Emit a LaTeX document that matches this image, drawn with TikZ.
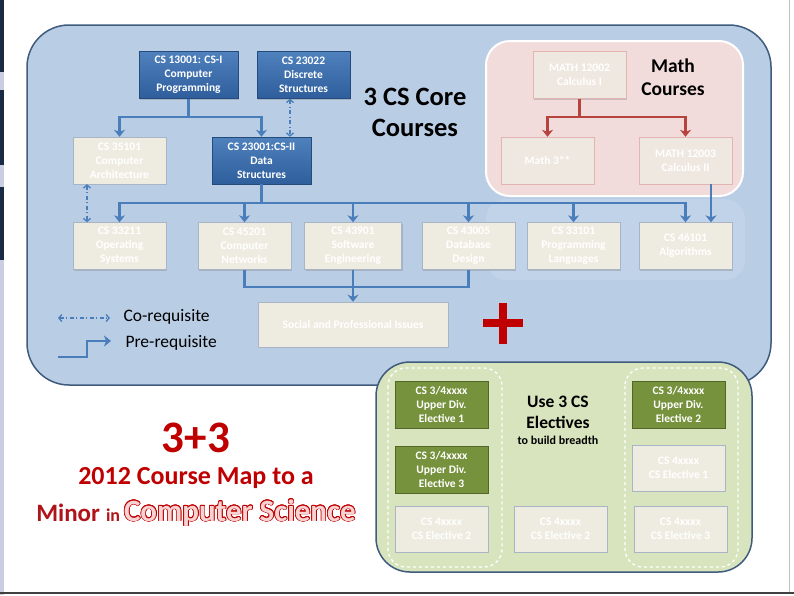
\documentclass[tikz,border=0pt]{standalone}
\usepackage{fontspec}
\setmainfont{Carlito}
\usepackage{contour}
\usetikzlibrary{arrows.meta,shadows,positioning,calc}

\definecolor{panelblue}{HTML}{B9CDE5}
\definecolor{paneledge}{HTML}{3F5B7D}
\definecolor{mathpink}{HTML}{F2DCDB}
\definecolor{mathbox}{HTML}{EFE8E0}
\definecolor{elecgreen}{HTML}{D7E4BD}
\definecolor{olive}{HTML}{76923C}
\definecolor{beige}{HTML}{EEECE1}
\definecolor{coreblue}{HTML}{4F81BD}
\definecolor{coredark}{HTML}{2E5E9C}
\definecolor{linkblue}{HTML}{4A7EBB}
\definecolor{linkred}{HTML}{B7433F}
\definecolor{titlered}{HTML}{C00000}
\definecolor{minorred}{HTML}{B0141B}
\definecolor{sciencepink}{HTML}{F6D2D2}
\definecolor{stripnavy}{HTML}{1B2A44}
\definecolor{stripgray}{HTML}{C9CEE0}

\contourlength{0.7pt}

\tikzset{
  course/.style={rectangle, minimum width=93pt, minimum height=47pt, align=center,
    text=white, font=\bfseries\fontsize{11.5}{14}\selectfont, inner sep=1pt,
    drop shadow={opacity=0.35, shadow xshift=1.2pt, shadow yshift=-1.2pt}},
  core/.style={course, top color=coreblue, bottom color=coredark, draw=coredark!80!black},
  other/.style={course, fill=beige, draw=paneledge!45},
  mathcourse/.style={course, fill=mathbox, draw=linkred!40},
  elective/.style={course, fill=olive, draw=olive!70!black},
  preline/.style={draw=linkblue, line width=2.5pt},
  pre/.style={preline, -{Stealth[length=7pt,width=11pt,inset=2pt]}},
  coreq/.style={draw=linkblue, line width=1.3pt, dash pattern=on 4pt off 2.5pt on 1pt off 2.5pt,
    {Straight Barb[length=3pt,width=7pt]}-{Straight Barb[length=3pt,width=7pt]}},
  mathline/.style={preline, draw=linkred},
  mathpre/.style={pre, draw=linkred},
  heading/.style={align=center, font=\bfseries\fontsize{26.5}{31}\selectfont},
  legendtext/.style={anchor=west, font=\fontsize{17.5}{19}\selectfont},
}

\begin{document}
\begin{tikzpicture}[x=1pt, y=-1pt]
\useasboundingbox (0,0) rectangle (794,595);

% frame of the slide
\fill[stripgray] (0,0) rectangle (4,595);
\fill[stripnavy] (0,0) rectangle (4,72);
\fill[stripnavy] (0,90) rectangle (4,165);
\fill[stripnavy] (0,187) rectangle (4,260);
\draw[gray!50, line width=1pt] (789,0) -- (789,593);
\draw[black!75, line width=2pt] (0,593) -- (794,593);

% Panels
\draw[fill=panelblue, draw=paneledge, line width=1.5pt, rounded corners=42pt] (27,25) rectangle (771,385);
\draw[fill=mathpink, draw=white, line width=2pt, rounded corners=24pt] (486,41) rectangle (743,196);
\fill[white, opacity=0.12, rounded corners=20pt] (486,199) rectangle (745,280);
\draw[fill=elecgreen, draw=paneledge, line width=1.5pt, rounded corners=34pt] (376,362) rectangle (752,572);
\draw[white, line width=1.3pt, dashed, rounded corners=18pt] (388,368) rectangle (502,567);
\draw[white, line width=1.3pt, dashed, rounded corners=18pt] (625,368) rectangle (738,567);

% Core courses
\node[core, minimum width=99pt] (cs13001) at (188.5,75) {CS 13001: CS-I\\Computer\\Programming};
\node[core] (cs23022) at (303.5,75) {CS 23022\\Discrete\\Structures};
\node[other] (cs35101) at (119.5,160.5) {CS 35101\\Computer\\Architecture};
\node[core, minimum width=99pt] (cs23001) at (261.5,160.5) {CS 23001:CS-II\\Data\\Structures};

% Upper courses
\node[other] (cs33211) at (119.5,246) {CS 33211\\Operating\\Systems};
\node[other] (cs45201) at (244.5,246) {CS 45201\\Computer\\Networks};
\node[other, minimum width=97pt] (cs43901) at (353,246) {CS 43901\\Software\\Engineering};
\node[other] (cs43005) at (468.5,246) {CS 43005\\Database\\Design};
\node[other] (cs33101) at (573.5,246) {CS 33101\\Programming\\Languages};
\node[other] (cs46101) at (685.5,246) {CS 46101\\Algorithms};
\node[other, minimum width=190pt, minimum height=45pt] (social) at (353,324.5) {Social and Professional Issues};

% Math courses
\node[mathcourse] (math12002) at (579.5,75) {MATH 12002\\Calculus I};
\node[mathcourse] (math3) at (547.5,160.5) {Math 3**};
\node[mathcourse] (math12003) at (685.5,160.5) {MATH 12003\\Calculus II};

% Electives
\node[elective] (elec1) at (441.5,404.5) {CS 3/4xxxx\\Upper Div.\\Elective 1};
\node[elective] (elec3) at (441.5,469.5) {CS 3/4xxxx\\Upper Div.\\Elective 3};
\node[elective] (elec2) at (678.5,404.5) {CS 3/4xxxx\\Upper Div.\\Elective 2};
\node[other, minimum height=46pt] (cselec1) at (678.5,468) {CS 4xxxx\\CS Elective 1};
\node[other, minimum height=46pt] (cselec2a) at (441.5,529) {CS 4xxxx\\CS Elective 2};
\node[other, minimum height=46pt] (cselec2b) at (560.5,529) {CS 4xxxx\\CS Elective 2};
\node[other, minimum height=46pt] (cselec3) at (680.5,529) {CS 4xxxx\\CS Elective 3};

% Headings
\node[heading] (coretitle) at (415,112) {3 CS Core\\Courses};
\node[align=center, font=\bfseries\fontsize{19.5}{23}\selectfont] (mathtitle) at (673,77) {Math\\Courses};
\node[align=center, font=\bfseries\fontsize{17.5}{21}\selectfont] (electitle) at (558,412) {Use 3 CS\\Electives};
\node[font=\bfseries\fontsize{12}{14}\selectfont] (elecsub) at (558,440) {to build breadth};

% Relationships
\coordinate (j13001) at (188.5,117);
\draw[preline] (cs13001.south) -- (j13001);
\draw[pre] (j13001) -| (cs35101.north);
\draw[pre] (j13001) -| (cs23001.north);

\coordinate (cx) at (290,0);
\draw[coreq] (cs23022.south -| cx) -- (cs23001.north -| cx);
\coordinate (cy) at (87,0);
\draw[coreq] (cs35101.south -| cy) -- (cs33211.north -| cy);

\coordinate (j23001) at (261.5,203);
\draw[preline] (cs23001.south) -- (j23001);
\foreach \n in {cs33211,cs45201,cs43901,cs43005,cs33101,cs46101}
  \draw[pre] (j23001) -| (\n.north);

\coordinate (cz) at (711,0);
\draw[pre] (math12003.south -| cz) -- (cs46101.north -| cz);

\coordinate (jsocial) at (353,287);
\draw[preline] (cs45201.south) |- (jsocial);
\draw[preline] (cs43005.south) |- (jsocial);
\draw[pre] (cs43901.south) -- (social.north);

\coordinate (jmath) at (579.5,117);
\draw[mathline] (math12002.south) -- (jmath);
\draw[mathpre] (jmath) -| (math3.north);
\draw[mathpre] (jmath) -| (math12003.north);

% Legend
\coordinate (coA) at (58,318);
\coordinate (coB) at (110,318);
\draw[coreq] (coA) -- (coB);
\node[legendtext] (colabel) at (120,317) {Co-requisite};
\coordinate (preA) at (58,357);
\coordinate (preB) at (111,341);
\draw[pre] (preA) -- ++(29,0) |- (preB);
\node[legendtext] (prelabel) at (122,343) {Pre-requisite};

% plus sign
\draw[titlered, line width=8pt] (483,323) -- (523,323) (503,303) -- (503,344);

% Title
\node[text=titlered, font=\bfseries\fontsize{45}{45}\selectfont] (bigtitle) at (196,438) {3+3};
\node[text=titlered, font=\bfseries\fontsize{26}{30}\selectfont] (mapline) at (196,478) {2012 Course Map to a};
\node[text=minorred, font=\bfseries] (minorline) at (196,513)
  {{\fontsize{25}{28}\selectfont Minor}\hspace{6pt}{\fontsize{18}{20}\selectfont in}\hspace{4pt}{\fontsize{31}{32}\selectfont\contour{titlered}{\textcolor{sciencepink}{Computer Science}}}};

\end{tikzpicture}
\end{document}
